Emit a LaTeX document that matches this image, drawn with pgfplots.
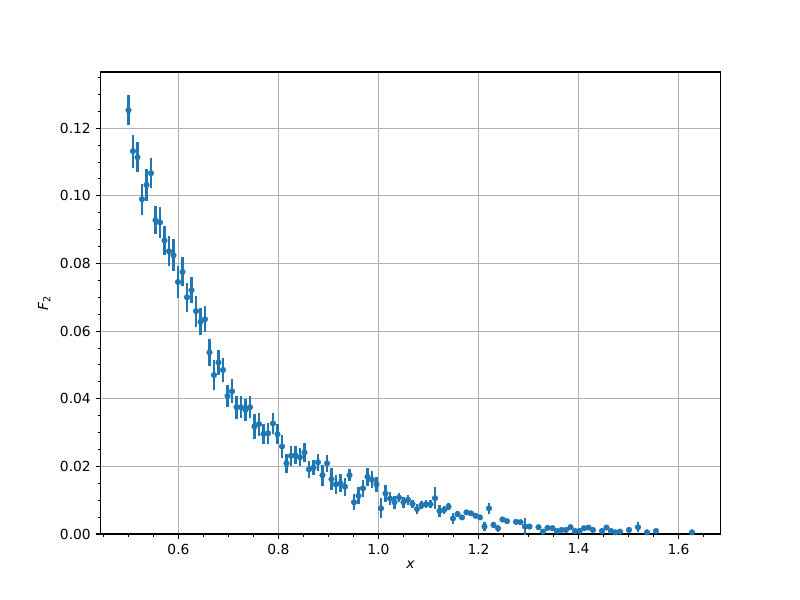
\documentclass[border=0pt]{standalone}
\usepackage{fontspec}
\setmainfont{DejaVu Sans}
\usepackage{pgfplots}
\pgfplotsset{compat=1.18}
\usepackage{pgfplotstable}
\definecolor{mplblue}{HTML}{1F77B4}
\definecolor{mplgrid}{HTML}{B0B0B0}

\pgfplotstableread{
x y e
0.500 0.1253 0.0045
0.509 0.1132 0.0049
0.518 0.1114 0.0044
0.527 0.0990 0.0046
0.536 0.1032 0.0048
0.545 0.1067 0.0045
0.554 0.0928 0.0041
0.563 0.0921 0.0045
0.572 0.0868 0.0044
0.581 0.0836 0.0045
0.590 0.0824 0.0047
0.599 0.0745 0.0046
0.608 0.0775 0.0043
0.617 0.0700 0.0043
0.626 0.0721 0.0039
0.635 0.0659 0.0046
0.644 0.0627 0.0040
0.653 0.0635 0.0039
0.662 0.0537 0.0040
0.671 0.0470 0.0044
0.680 0.0507 0.0038
0.689 0.0485 0.0035
0.698 0.0408 0.0033
0.707 0.0422 0.0035
0.716 0.0375 0.0034
0.725 0.0375 0.0033
0.734 0.0367 0.0033
0.743 0.0375 0.0033
0.752 0.0318 0.0037
0.761 0.0325 0.0034
0.770 0.0296 0.0030
0.779 0.0298 0.0031
0.789 0.0327 0.0032
0.798 0.0295 0.0029
0.807 0.0259 0.0033
0.816 0.0209 0.0028
0.825 0.0231 0.0029
0.834 0.0233 0.0027
0.843 0.0227 0.0027
0.852 0.0241 0.0028
0.861 0.0191 0.0026
0.870 0.0196 0.0022
0.879 0.0212 0.0026
0.888 0.0174 0.0031
0.897 0.0209 0.0025
0.906 0.0162 0.0032
0.915 0.0147 0.0028
0.924 0.0150 0.0026
0.933 0.0140 0.0027
0.942 0.0174 0.0017
0.951 0.0094 0.0023
0.960 0.0113 0.0025
0.969 0.0135 0.0025
0.978 0.0169 0.0026
0.987 0.0160 0.0025
0.996 0.0147 0.0022
1.005 0.0076 0.0029
1.014 0.0120 0.0026
1.023 0.0105 0.0020
1.032 0.0094 0.0019
1.041 0.0108 0.0012
1.050 0.0094 0.0016
1.059 0.0101 0.0015
1.068 0.0089 0.0012
1.077 0.0074 0.0016
1.086 0.0085 0.0012
1.095 0.0088 0.0012
1.104 0.0088 0.0012
1.113 0.0106 0.0032
1.122 0.0068 0.0017
1.131 0.0071 0.0012
1.140 0.0081 0.0010
1.149 0.0046 0.0017
1.158 0.0059 0.0010
1.167 0.0049 0.0008
1.176 0.0064 0.0008
1.185 0.0061 0.0008
1.194 0.0054 0.0008
1.203 0.0049 0.0008
1.212 0.0022 0.0014
1.221 0.0076 0.0017
1.230 0.0027 0.0008
1.239 0.0017 0.0010
1.248 0.0043 0.0006
1.257 0.0038 0.0006
1.275 0.0036 0.0006
1.284 0.0035 0.0006
1.293 0.0022 0.0025
1.302 0.0022 0.0005
1.320 0.0020 0.0005
1.329 0.0007 0.0004
1.338 0.0018 0.0004
1.348 0.0017 0.0004
1.357 0.0009 0.0004
1.366 0.0012 0.0004
1.375 0.0012 0.0004
1.384 0.0020 0.0004
1.393 0.0009 0.0004
1.402 0.0009 0.0004
1.411 0.0017 0.0004
1.420 0.0019 0.0004
1.429 0.0012 0.0004
1.447 0.0009 0.0004
1.456 0.0019 0.0004
1.465 0.0009 0.0004
1.474 0.0005 0.0003
1.483 0.0007 0.0003
1.501 0.0012 0.0003
1.519 0.0020 0.0015
1.537 0.0005 0.0003
1.555 0.0009 0.0003
1.627 0.0005 0.0003
}\datatable

\begin{document}
\begin{tikzpicture}
\useasboundingbox (-1.005in,-0.66in) rectangle (6.995in,5.34in);
\begin{axis}[
    at={(0,0)}, anchor=south west,
    scale only axis,
    width=6.2in, height=4.62in,
    xmin=0.444, xmax=1.684,
    ymin=0, ymax=0.1366,
    xtick={0.6,0.8,...,1.61},
    ytick={0,0.02,...,0.121},
    minor xtick={0.45,0.50,...,1.66},
    minor ytick={0.005,0.010,...,0.136},
    xtick pos=bottom, ytick pos=left,
    tick align=outside,
    major tick length=3.5pt, minor tick length=2pt,
    every tick/.style={black, line width=0.8pt},
    minor tick style={line width=0.6pt},
    axis line style={line width=0.8pt},
    grid=major,
    major grid style={mplgrid, line width=0.8pt},
    /pgf/number format/assume math mode=true,
    x tick label style={/pgf/number format/.cd, fixed, fixed zerofill, precision=1},
    y tick label style={/pgf/number format/.cd, fixed, fixed zerofill, precision=2},
    ticklabel style={font=\fontsize{10}{12}\selectfont},
    xlabel={\textit{x}}, ylabel={\textit{F}\textsubscript{2}},
    label style={font=\fontsize{10}{12}\selectfont},
    xlabel style={yshift=2pt},
    scaled ticks=false,
]
\addplot[mplblue, only marks, mark=*, mark size=2pt,
    mark options={mplblue, fill=mplblue, draw=mplblue},
    error bars/.cd, y dir=both, y explicit, error mark=none,
    error bar style={mplblue, line width=1.5pt}]
    table[x=x, y=y, y error=e] {\datatable};
\end{axis}
\end{tikzpicture}
\end{document}
